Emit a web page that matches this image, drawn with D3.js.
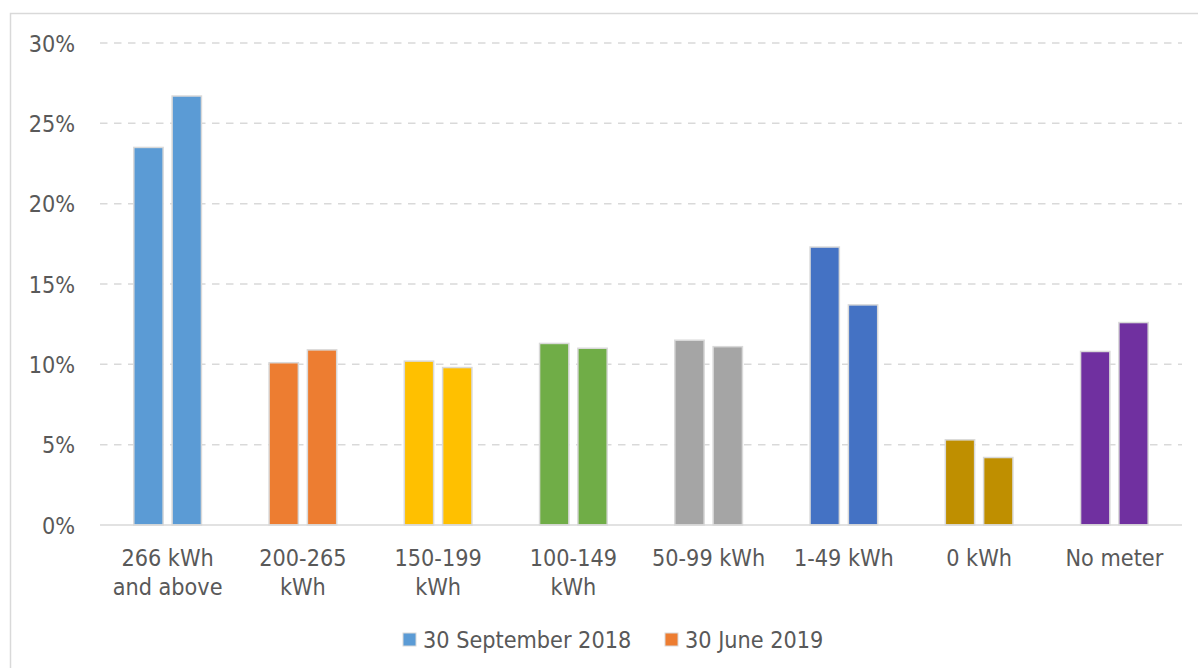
<!DOCTYPE html>
<html><head><meta charset="utf-8">
<script src="https://cdn.jsdelivr.net/npm/d3@7"></script>
<style>
body{margin:0;background:#fff;}
text{font-family:"DejaVu Sans Condensed","DejaVu Sans",sans-serif;font-stretch:condensed;fill:#595959;}
</style></head>
<body><svg id="c" width="1198" height="668"></svg>
<script>
const categories = ["266 kWh\nand above","200-265\nkWh","150-199\nkWh","100-149\nkWh","50-99 kWh","1-49 kWh","0 kWh","No meter"];
const seriesNames = ["30 September 2018","30 June 2019"];
const sep2018 = [23.5,10.1,10.2,11.3,11.5,17.3,5.3,10.8];
const jun2019 = [26.7,10.9,9.8,11.0,11.1,13.7,4.2,12.6];
const colors = ["#5B9BD5","#ED7D31","#FFC000","#70AD47","#A5A5A5","#4472C4","#BF8F00","#7030A0"];
const yTicks = [0,5,10,15,20,25,30];

const svg = d3.select("#c");
const fs = 23.2;
// chart border (cropped at right/bottom)
svg.append("path").attr("d","M10.5,700 V13.5 H1210").attr("fill","none").attr("stroke","#D9D9D9").attr("stroke-width",1.5);

const x0 = d3.scaleBand().domain(categories).range([100,1182]).paddingInner(0.5).paddingOuter(0.25);
const x1 = d3.scaleBand().domain(seriesNames).range([0,x0.bandwidth()]).paddingInner(0.235);
const y = d3.scaleLinear().domain([0,30]).range([525,43]);

// gridlines
svg.append("g").selectAll("line").data(yTicks.filter(d=>d>0)).join("line")
  .attr("x1",100).attr("x2",1182).attr("y1",d=>y(d)).attr("y2",d=>y(d))
  .attr("stroke","#D9D9D9").attr("stroke-width",1.5).attr("stroke-dasharray","7.5,6.5");

// y axis labels
const ya = svg.append("g").attr("transform","translate(100,0)")
  .call(d3.axisLeft(y).tickValues(yTicks).tickSize(0).tickPadding(25).tickFormat(d=>d+"%"));
ya.select(".domain").remove();
ya.selectAll("text").attr("font-size",fs).attr("dy","0.35em").style("font-family",null);

// bars
const data = categories.map((c,i)=>({c, i, vals:[sep2018[i],jun2019[i]]}));
const g = svg.append("g").selectAll("g").data(data).join("g")
  .attr("transform",d=>`translate(${x0(d.c)},0)`);
g.selectAll("rect").data(d=>d.vals.map((v,k)=>({v,k,i:d.i}))).join("rect")
  .attr("x",d=>x1(seriesNames[d.k])).attr("width",x1.bandwidth())
  .attr("y",d=>y(d.v)).attr("height",d=>y(0)-y(d.v))
  .attr("fill",d=>colors[d.i]).attr("stroke","#D9D9D9").attr("stroke-width",1.5);

// baseline
svg.append("line").attr("x1",100).attr("x2",1182).attr("y1",y(0)).attr("y2",y(0))
  .attr("stroke","#D9D9D9").attr("stroke-width",1.5);

// x axis labels
const xa = svg.append("g").attr("transform",`translate(0,${y(0)})`)
  .call(d3.axisBottom(x0).tickSize(0).tickFormat(""));
xa.select(".domain").remove();
xa.selectAll(".tick").each(function(d){
  const t = d3.select(this).append("text").attr("text-anchor","middle").attr("font-size",fs);
  d.split("\n").forEach((line,j)=>{
    t.append("tspan").attr("x",0).attr("y",41+j*29).text(line);
  });
});

// legend
const leg = [{name:seriesNames[0],color:colors[0],x:403},{name:seriesNames[1],color:colors[1],x:665}];
const lg = svg.append("g").selectAll("g").data(leg).join("g").attr("transform",d=>`translate(${d.x},633)`);
lg.append("rect").attr("width",13).attr("height",13).attr("fill",d=>d.color).attr("stroke","#D9D9D9").attr("stroke-width",1);
lg.append("text").attr("x",20).attr("y",15).attr("font-size",fs).text(d=>d.name);
</script></body></html>
